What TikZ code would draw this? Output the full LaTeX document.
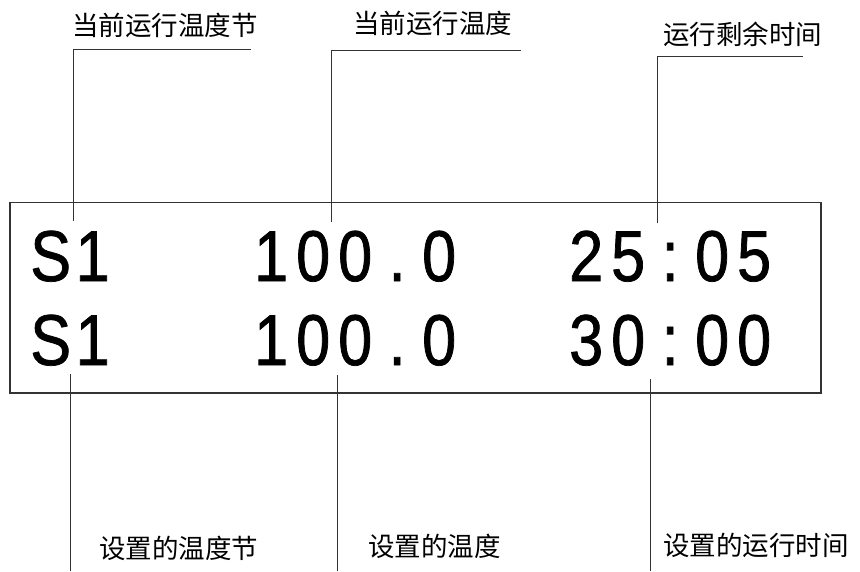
\documentclass[tikz,border=0pt]{standalone}
\usepackage{fontspec}
\setmainfont{Liberation Sans}
\newfontfamily\cjk{Noto Sans CJK SC}
\newfontfamily\lcdfont[FakeStretch=0.85,FakeBold=1]{Liberation Sans}
\makeatletter
\newcommand{\lcd}[1]{\@tfor\lcdch:=#1\do{\makebox[42pt]{\lcdch}}}
\makeatother

\tikzset{
  lcd/.style={font=\lcdfont\fontsize{72}{72}\selectfont, inner sep=0pt, anchor=base west},
  tag/.style={font=\cjk\fontsize{26.5}{26.5}\selectfont, inner sep=0pt, anchor=west},
  leader/.style={draw=black!80, line width=1pt}
}

\begin{document}
\begin{tikzpicture}[x=1pt,y=-1pt]
        \useasboundingbox (0,0) rectangle (860,571);

        % display panel
        \draw[black!80, line width=1.3pt] (10,202.7) rectangle (821,393);

        \node[lcd] (s1a) at (29.5,281) {\lcd{S1}};
        \node[lcd] (t1a) at (250,281) {\lcd{100.0}};
        \node[lcd] (r1a) at (565,281) {\lcd{25:05}};

        \node[lcd] (s1b) at (29.5,365) {\lcd{S1}};
        \node[lcd] (t1b) at (250,365) {\lcd{100.0}};
        \node[lcd] (r1b) at (565,365) {\lcd{30:00}};

        % labels above
        \node[tag] (cursec) at (72,25) {当前运行温度节};
        \node[tag] (curtemp) at (353,23) {当前运行温度};
        \node[tag] (remtime) at (663,34) {运行剩余时间};

        \coordinate (cursec-in) at (73,221);
        \coordinate (cursec-end) at (251,49.3);
        \coordinate (curtemp-in) at (331.7,222);
        \coordinate (curtemp-end) at (521,50.7);
        \coordinate (remtime-in) at (657.7,223);
        \coordinate (remtime-end) at (803,56);

        \draw[leader] (cursec-in) |- (cursec-end);
        \draw[leader] (curtemp-in) |- (curtemp-end);
        \draw[leader] (remtime-in) |- (remtime-end);

        % labels below
        \node[tag] (setsec) at (99,548) {设置的温度节};
        \node[tag] (settemp) at (368,546) {设置的温度};
        \node[tag] (settime) at (663,545) {设置的运行时间};

        \coordinate (setsec-in) at (70,374);
        \coordinate (setsec-end) at (70,571);
        \coordinate (settemp-in) at (337.7,375);
        \coordinate (settemp-end) at (337.7,571);
        \coordinate (settime-in) at (650.7,379);
        \coordinate (settime-end) at (650.7,571);

        \draw[leader] (setsec-in) -- (setsec-end);
        \draw[leader] (settemp-in) -- (settemp-end);
        \draw[leader] (settime-in) -- (settime-end);
    \end{tikzpicture}
\end{document}
